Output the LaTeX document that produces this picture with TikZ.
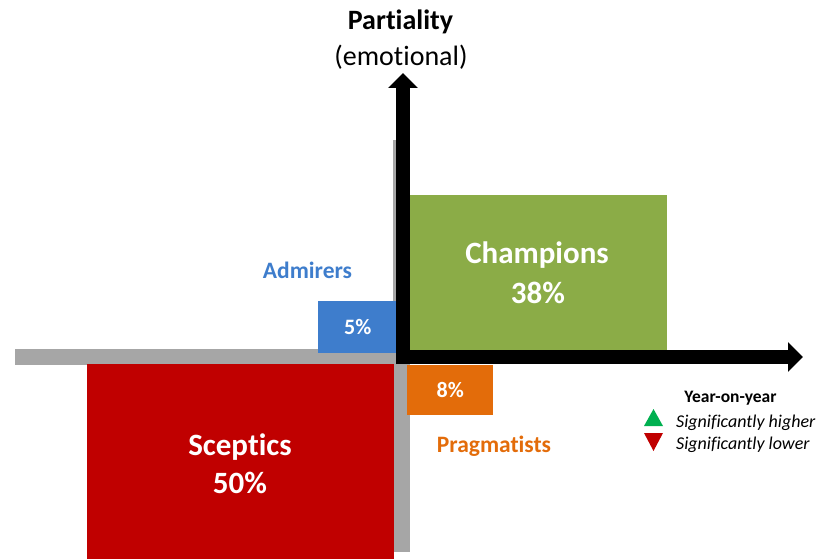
\documentclass[tikz,border=0pt]{standalone}
\usepackage{fontspec}
\setmainfont{Carlito}[Ligatures=NoCommon]
\usetikzlibrary{arrows.meta}
\definecolor{cgreen}{HTML}{8BAC47}
\definecolor{cblue}{HTML}{3E7DCC}
\definecolor{cred}{HTML}{C00000}
\definecolor{corange}{HTML}{E36C0A}
\definecolor{cgray}{HTML}{A6A6A6}
\definecolor{tgreen}{HTML}{00B050}
\tikzset{
  box/.style={fill=#1, draw=none, inner sep=0, anchor=north west},
  biglabel/.style={text=white, anchor=base, inner sep=0, font=\bfseries\fontsize{31}{36}\selectfont},
  pctlabel/.style={text=white, font=\bfseries\fontsize{22}{26}\selectfont},
  grouplabel/.style={anchor=base, inner sep=0, font=\bfseries\fontsize{23.5}{28}\selectfont},
  legendtext/.style={anchor=base west, inner sep=0, font=\itshape\fontsize{18}{22}\selectfont},
  axis/.style={line width=13.5pt, -{Triangle[length=15pt,width=29pt]}},
  graybar/.style={fill=cgray, draw=none},
}
\begin{document}
\begin{tikzpicture}[x=1pt,y=-1pt]
\useasboundingbox (0,0) rectangle (817,559);
% gray bars
\fill[graybar] (15,349) rectangle (398,365);
\fill[graybar] (393,140) rectangle (410,552);
% boxes
\node[box=cred, minimum width=307pt, minimum height=195pt] (sceptics) at (87,364) {};
\node[box=cgreen, minimum width=257pt, minimum height=155pt] (champions) at (410,195) {};
\node[box=cblue, minimum width=79pt, minimum height=52pt] (admirersbox) at (318,301) {};
\node[box=corange, minimum width=86pt, minimum height=50pt] (pragbox) at (407,365) {};
% box labels
\node[biglabel] (scepticslbl) at (240,455) {Sceptics};
\node[biglabel] (scepticspct) at (240,493) {50\%};
\node[biglabel] (championslbl) at (537,263) {Champions};
\node[biglabel] (championspct) at (538,303) {38\%};
\node[pctlabel] (fivelbl) at (admirersbox.center) {5\%};
\node[pctlabel] (eightlbl) at (pragbox.center) {8\%};
% axes
\coordinate (ytop) at (403,73);
\coordinate (xend) at (803,357);
\coordinate (ybot) at (403,364);
\coordinate (xstart) at (396.5,357);
\draw[axis] (ybot) -- (ytop);
\draw[axis] (xstart) -- (xend);
% axis titles
\node[anchor=base, inner sep=0, font=\bfseries\fontsize{28}{32}\selectfont] (ptitle) at (400.5,30) {Partiality};
\node[anchor=base, inner sep=0, font=\fontsize{28}{32}\selectfont] (psub) at (401,66) {(emotional)};
% group labels
\node[grouplabel, text=cblue] (admirers) at (307.5,278) {Admirers};
\node[grouplabel, text=corange] (pragmatists) at (494,452) {Pragmatists};
% legend
\node[anchor=base, inner sep=0, font=\bfseries\fontsize{17.5}{20}\selectfont] (yoy) at (730.5,402) {Year-on-year};
\fill[tgreen] (644,426) -- (663,426) -- (653.5,409) -- cycle;
\fill[cred] (644,433) -- (663,433) -- (653.5,451) -- cycle;
\node[legendtext] (higher) at (676,427) {Significantly higher};
\node[legendtext] (lower) at (676,449) {Significantly lower};
\end{tikzpicture}
\end{document}
